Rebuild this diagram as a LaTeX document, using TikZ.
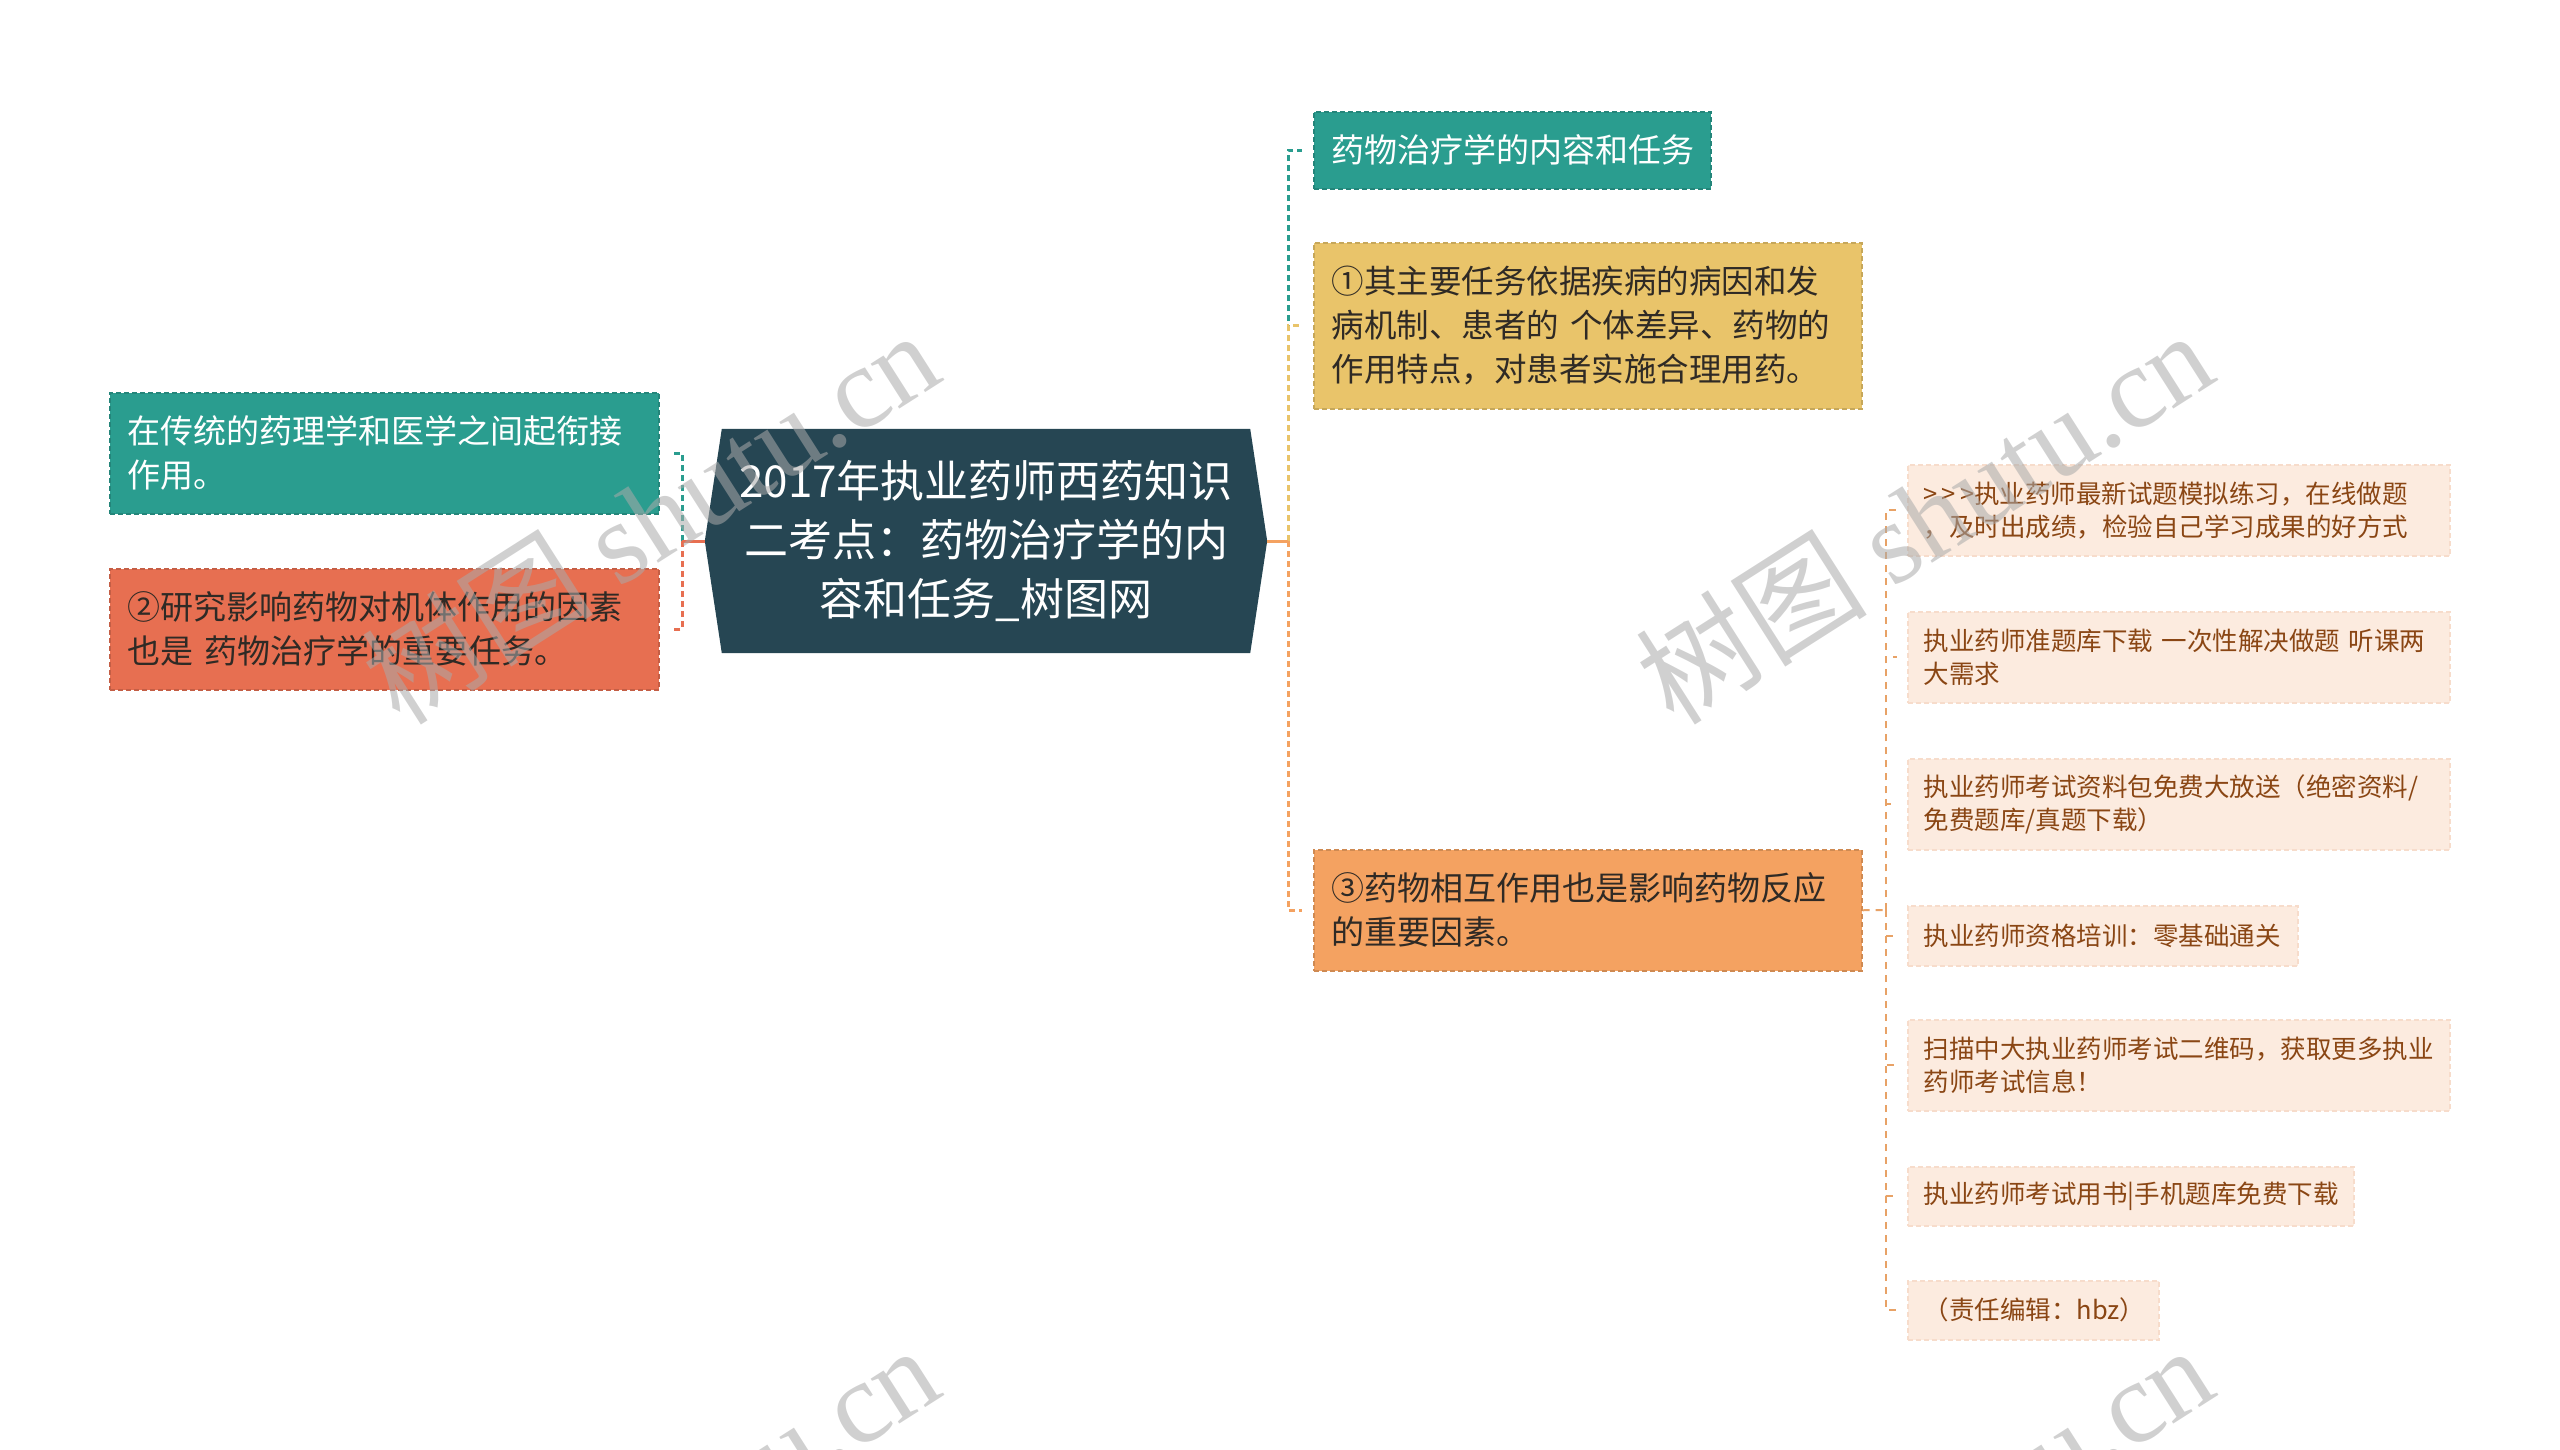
\documentclass[tikz,border=0pt]{standalone}
\usepackage{fontspec}
\setmainfont{Noto Sans CJK SC}
\newfontfamily\wmlatin{Liberation Serif}
\usetikzlibrary{calc}
\definecolor{cdark}{HTML}{264653}
\definecolor{cteal}{HTML}{2A9D8F}
\definecolor{cyellow}{HTML}{E9C46A}
\definecolor{corange}{HTML}{F4A261}
\definecolor{cred}{HTML}{E76F51}
\definecolor{cpeach}{HTML}{FCEBDF}
\definecolor{cpeachline}{HTML}{F7DCCB}
\definecolor{cbrown}{HTML}{8A4614}
\definecolor{cpline}{HTML}{E8A266}
\definecolor{ctextdark}{HTML}{2F2A25}
\definecolor{wmgray}{RGB}{170,170,170}
\pgfdeclarelayer{bg}
\pgfsetlayers{bg,main}
\begin{document}
\begin{tikzpicture}[x=1pt,y=-1pt,
  box/.style={anchor=north west, inner xsep=18pt, inner ysep=0pt, align=left,
    dashed, dash pattern=on 5pt off 3pt, line width=1.5pt,
    font=\fontsize{33}{44}\selectfont},
  tealbox/.style={box, fill=cteal, draw=cteal!85!black, text=white},
  redbox/.style={box, fill=cred, draw=cred!85!black, text=ctextdark},
  yellowbox/.style={box, fill=cyellow, draw=cyellow!85!black, text=ctextdark},
  orangebox/.style={box, fill=corange, draw=corange!85!black, text=ctextdark},
  peachbox/.style={box, inner xsep=16pt, fill=cpeach, draw=cpeachline, text=cbrown,
    font=\fontsize{25.5}{33}\selectfont},
  centralnode/.style={minimum width=562pt, minimum height=224pt, inner sep=0pt,
    align=center, text=white, font=\fontsize{44}{59}\selectfont},
  trunk/.style={line width=3pt},
  conn/.style={line width=3pt, dash pattern=on 6pt off 4pt, shorten >=11pt},
  pconn/.style={line width=2pt, cpline, dash pattern=on 7pt off 6pt, shorten >=10pt},
  wm/.style={rotate=32.5, inner sep=0pt, text=wmgray, opacity=0.55,
    font=\fontsize{116}{116}\selectfont}
]
\useasboundingbox (0,0) rectangle (2560,1449);

% central
\node[centralnode] (c) at (986,541) {2017年执业药师西药知识\\二考点：药物治疗学的内\\容和任务\_树图网};
\begin{pgfonlayer}{bg}
\fill[cdark] ([xshift=17pt]c.north west) -- ([xshift=-17pt]c.north east) -- (c.east)
  -- ([xshift=-17pt]c.south east) -- ([xshift=17pt]c.south west) -- (c.west) -- cycle;
\end{pgfonlayer}

% left
\node[tealbox, minimum width=549pt, minimum height=121pt, text width=513pt] (l1) at (109,392)
  {在传统的药理学和医学之间起衔接\\作用。};
\node[redbox, minimum width=549pt, minimum height=121pt, text width=513pt] (l2) at (109,568)
  {②研究影响药物对机体作用的因素\\也是 药物治疗学的重要任务。};

% right
\node[tealbox, minimum width=397pt, minimum height=77pt, text width=361pt] (r1) at (1313,111)
  {药物治疗学的内容和任务};
\node[yellowbox, minimum width=548pt, minimum height=166pt, text width=512pt,
  font=\fontsize{32.5}{44}\selectfont] (r2) at (1313,242)
  {①其主要任务依据疾病的病因和发\\病机制、患者的 个体差异、药物的\\作用特点，对患者实施合理用药。};
\node[orangebox, minimum width=548pt, minimum height=121pt, text width=512pt] (r3) at (1313,849)
  {③药物相互作用也是影响药物反应\\的重要因素。};

% peach children
\node[peachbox, minimum width=542pt, minimum height=91pt, text width=510pt] (p1) at (1907,464)
  {{>}\hspace{4pt}{>}\hspace{4pt}{>}执业药师最新试题模拟练习，在线做题\\，及时出成绩，检验自己学习成果的好方式};
\node[peachbox, minimum width=542pt, minimum height=91pt, text width=510pt] (p2) at (1907,611)
  {执业药师准题库下载 一次性解决做题 听课两\\大需求};
\node[peachbox, minimum width=542pt, minimum height=91pt, text width=510pt] (p3) at (1907,758)
  {执业药师考试资料包免费大放送（绝密资料/\\免费题库/真题下载）};
\node[peachbox, minimum width=390pt, minimum height=60pt, text width=358pt] (p4) at (1907,905)
  {执业药师资格培训：零基础通关};
\node[peachbox, minimum width=542pt, minimum height=91pt, text width=510pt] (p5) at (1907,1019)
  {扫描中大执业药师考试二维码，获取更多执业\\药师考试信息！};
\node[peachbox, minimum width=446pt, minimum height=59pt, text width=414pt] (p6) at (1907,1166)
  {执业药师考试用书|手机题库免费下载};
\node[peachbox, minimum width=251pt, minimum height=59pt, text width=219pt] (p7) at (1907,1280)
  {（责任编辑：hbz）};

% junctions
\coordinate (lj) at (682,541);
\coordinate (rj) at (1288,541);
\coordinate (pj) at (1886,910);

% left connectors
\draw[conn, cteal] (lj) |- (l1.east);
\draw[conn, cred] (lj) |- (l2.east);
\draw[trunk, cred] (c.west) -- (lj);

% right connectors
\draw[conn, cteal] (rj) |- (r1.west);
\draw[conn, cyellow] (rj) |- (r2.west);
\draw[conn, corange] (rj) |- (r3.west);
\draw[trunk, corange] (c.east) -- (rj);

% peach connectors
\draw[pconn, shorten >=0pt] (r3.east) -- (pj);
\foreach \p in {p1,p2,p3,p4,p5,p6,p7} {\draw[pconn] (pj) |- (\p.west);}

% watermarks
\node[wm] (w1) at (650,516) {树图 {\wmlatin shutu.cn}};
\node[wm] (w2) at (1924,516) {树图 {\wmlatin shutu.cn}};
\node[wm] (w3) at (650,1531) {树图 {\wmlatin shutu.cn}};
\node[wm] (w4) at (1924,1531) {树图 {\wmlatin shutu.cn}};
\end{tikzpicture}
\end{document}
